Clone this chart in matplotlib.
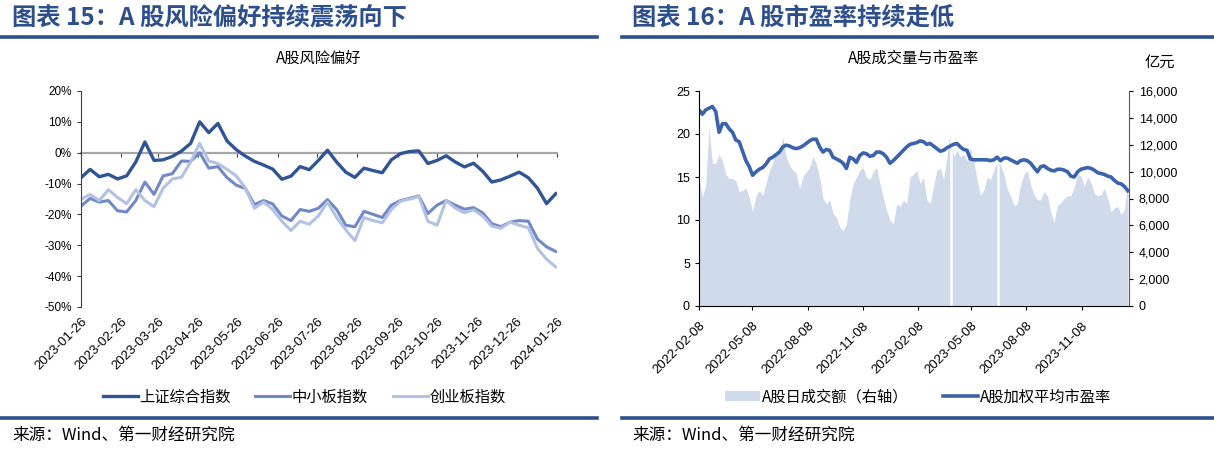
import matplotlib
matplotlib.use('Agg')
import matplotlib.pyplot as plt
from matplotlib.lines import Line2D
from matplotlib.patches import Patch
from matplotlib.ticker import FuncFormatter
import pandas as pd

plt.rcParams['font.family'] = ['Liberation Sans', 'Noto Sans CJK SC', 'DejaVu Sans']
plt.rcParams['axes.unicode_minus'] = False

# ---- 图表15 数据：A股风险偏好（%，周度读数）
risk_start = '2023-01-26'
sh_idx = [-8.1, -5.4, -7.8, -7.0, -8.5, -7.5, -3.0, 3.5, -2.5, -2.3,
          -1.2, 0.5, 3.0, 10.0, 6.5, 9.5, 3.8, 1.0, -1.1, -2.8,
          -4.0, -5.3, -8.6, -7.6, -4.5, -5.5, -2.5, 0.8, -3.0, -6.3,
          -8.0, -5.0, -5.8, -6.5, -2.3, -0.3, 0.4, 0.6, -3.5, -2.5,
          -1.0, -3.0, -4.6, -3.4, -6.0, -9.5, -8.8, -7.6, -6.3, -8.1,
          -11.5, -16.5, -13.3]
zx_idx = [-17.3, -14.8, -16.0, -15.5, -18.8, -19.2, -15.5, -9.5, -13.5, -7.5,
          -6.8, -2.7, -2.8, 0.0, -5.0, -4.5, -8.1, -10.5, -11.6, -16.8,
          -15.5, -16.6, -20.5, -22.0, -18.4, -19.0, -18.0, -15.2, -18.4, -23.5,
          -24.0, -19.0, -20.0, -21.0, -17.0, -15.5, -14.8, -14.0, -19.7, -17.0,
          -15.5, -17.0, -18.3, -17.8, -19.5, -23.0, -24.0, -22.5, -22.0, -22.2,
          -28.0, -30.5, -32.0]
cy_idx = [-15.1, -13.5, -15.5, -12.0, -14.5, -16.5, -12.0, -15.5, -17.5, -11.5,
          -8.5, -8.0, -3.0, 3.0, -2.7, -3.5, -5.4, -7.5, -11.4, -18.0,
          -16.0, -18.4, -22.2, -25.2, -22.2, -23.2, -20.5, -16.0, -21.0, -25.0,
          -28.5, -21.0, -22.0, -22.7, -18.4, -15.7, -15.0, -14.2, -22.2, -23.5,
          -15.5, -18.0, -19.5, -18.5, -20.5, -23.8, -24.5, -22.5, -23.5, -24.3,
          -31.0, -34.5, -37.0]
risk_labels = ['上证综合指数', '中小板指数', '创业板指数']

# ---- 图表16 数据：成交额（亿元）与加权平均市盈率
mkt_start, mkt_end = '2022-02-08', '2024-01-24'
volume = [9600, 8100, 9000, 13300, 10600, 10600, 11300, 10800, 9800, 9500,
          9500, 9300, 8500, 8600, 8800, 8100, 7000, 8200, 8600, 8200,
          9100, 10100, 10600, 11600, 11300, 12600, 11100, 10500, 10100, 9900,
          8700, 9600, 10000, 10300, 11100, 10600, 9600, 8000, 7600, 7900,
          6900, 6600, 5900, 5600, 6100, 7900, 9100, 9600, 10100, 10300,
          9600, 9400, 10000, 10300, 9100, 8100, 7100, 6400, 6100, 7600,
          7400, 7900, 7600, 9600, 9800, 10100, 9100, 9600, 7900, 7600,
          8900, 10100, 10300, 9400, 11100, 13100, 11100, 11600, 11100, 11300,
          10800, 11800, 10800, 9400, 8200, 8600, 9600, 9400, 10100, 10800,
          10500, 9800, 8700, 8200, 7500, 7600, 9000, 9800, 10100, 9000,
          8300, 7900, 7900, 8500, 8200, 7000, 6200, 7500, 7700, 8000,
          8200, 8200, 8800, 9800, 9700, 8900, 9600, 9200, 8400, 8200,
          8300, 8800, 8000, 7000, 7300, 7400, 6800, 7200, 9100]
zero_volume_days = ['2023-04-05', '2023-06-22']
pe = [22.8, 22.3, 22.8, 23.0, 23.2, 22.6, 20.2, 21.2, 21.2, 20.6,
      20.2, 19.3, 19.1, 18.0, 16.9, 16.2, 15.2, 15.6, 15.9, 16.1,
      16.5, 17.1, 17.3, 17.6, 17.9, 18.5, 18.7, 18.6, 18.4, 18.3,
      18.4, 18.6, 18.9, 19.2, 19.4, 19.4, 18.5, 17.9, 18.2, 18.1,
      17.3, 17.1, 16.9, 16.6, 16.0, 17.3, 17.1, 16.7, 17.5, 17.8,
      17.7, 17.4, 17.5, 17.9, 17.9, 17.7, 17.3, 16.6, 16.9, 17.3,
      17.7, 18.1, 18.5, 18.8, 18.9, 19.0, 19.2, 19.1, 18.8, 18.9,
      18.6, 18.3, 18.0, 18.1, 18.4, 18.6, 18.8, 18.9, 18.5, 18.2,
      18.1, 17.1, 17.0, 17.0, 17.0, 17.0, 17.0, 16.9, 17.0, 17.3,
      16.9, 17.2, 17.2, 17.0, 16.8, 16.6, 16.9, 17.0, 16.9, 16.6,
      16.1, 15.6, 16.2, 16.3, 16.0, 15.8, 15.7, 15.9, 15.9, 15.8,
      15.6, 15.1, 15.0, 15.6, 15.9, 16.0, 16.1, 16.0, 15.8, 15.5,
      15.4, 15.3, 15.1, 15.0, 14.6, 14.3, 14.2, 13.9, 13.4]
mkt_labels = ['A股日成交额（右轴）', 'A股加权平均市盈率']

# 颜色
hdr = '#2D4F8E'
c_sh, c_zx, c_cy = '#2F5597', '#7189C6', '#B3C2E2'
c_area, c_pe = '#CFDAEB', '#3B63AD'
cjk = ['Noto Sans CJK SC', 'DejaVu Sans']

W, H = 1214, 449
fig = plt.figure(figsize=(W / 100, H / 100), dpi=100)


def fx(px):
    return px / W


def fy(py):
    return 1 - py / H


# 标题栏、分隔线、来源
for x0, x1, tx, title in [(0, 597, 12, '图表 15：A 股风险偏好持续震荡向下'),
                          (622, 1214, 632, '图表 16：A 股市盈率持续走低')]:
    fig.add_artist(Line2D([fx(x0), fx(x1)], [fy(37)] * 2, color=hdr, lw=2.6))
    fig.add_artist(Line2D([fx(x0), fx(x1)], [fy(418)] * 2, color=hdr, lw=2.6))
    fig.text(fx(tx), fy(19), title, fontsize=17.5, fontweight='bold',
             color=hdr, family=cjk, va='center')
    fig.text(fx(tx), fy(435), '来源：Wind、第一财经研究院', fontsize=12,
             family=cjk, va='center')

# ---------------- 左图
ax1 = fig.add_axes([fx(81), fy(307), fx(557) - fx(81), fy(91) - fy(307)])
wk = pd.date_range(risk_start, periods=len(sh_idx), freq='7D')
ax1.plot(wk, sh_idx, color=c_sh, lw=2.4, label=risk_labels[0])
ax1.plot(wk, zx_idx, color=c_zx, lw=2.2, label=risk_labels[1])
ax1.plot(wk, cy_idx, color=c_cy, lw=2.2, label=risk_labels[2])
ax1.set_ylim(-50, 20)
ax1.set_yticks(range(-50, 21, 10))
ax1.yaxis.set_major_formatter(FuncFormatter(lambda v, p: f'{v:.0f}%'))
m_ticks = pd.date_range('2023-01-26', '2024-01-26', freq=pd.DateOffset(months=1))
ax1.set_xlim(m_ticks[0], m_ticks[-1])
ax1.set_xticks(m_ticks)
ax1.set_xticklabels([d.strftime('%Y-%m-%d') for d in m_ticks], rotation=45,
                    ha='right', rotation_mode='anchor')
ax1.tick_params(axis='x', length=0, pad=6, labelsize=9.5)
ax1.tick_params(axis='y', length=3, width=0.8, labelsize=8.5, color='#404040')
for s in ['top', 'right', 'bottom']:
    ax1.spines[s].set_visible(False)
ax1.spines['left'].set_color('#404040')
ax1.spines['left'].set_linewidth(0.8)
ax1.set_title('A股风险偏好', fontsize=11, family=cjk, pad=20)

# 0%处的横轴
zero_loc = (0 - ax1.get_ylim()[0]) / (ax1.get_ylim()[1] - ax1.get_ylim()[0])
sec = ax1.secondary_xaxis(zero_loc)
sec.set_alignment('bottom')
sec.set_xticks(m_ticks)
sec.set_xticklabels([])
sec.tick_params(length=3, width=0.8, color='#404040')
sec.spines['bottom'].set_color('#A6A6A6')
sec.spines['bottom'].set_linewidth(1.6)

fig.legend(*ax1.get_legend_handles_labels(), loc='center',
           bbox_to_anchor=(fx(304), fy(397)), ncol=3, frameon=False,
           prop={'family': cjk, 'size': 11}, handlelength=2.3,
           handletextpad=0.1, columnspacing=1.6)

# ---------------- 右图
ax2 = fig.add_axes([fx(699), fy(306), fx(1129) - fx(699), fy(91) - fy(306)])
ax2r = ax2.twinx()
md = pd.date_range(mkt_start, mkt_end, periods=len(volume))
ax2r.fill_between(md, volume, color=c_area, lw=0, label=mkt_labels[0])
ax2r.vlines(pd.to_datetime(zero_volume_days), 0, 16000, color='white', lw=1.8)
pd_dates = pd.date_range(mkt_start, mkt_end, periods=len(pe))
ax2.plot(pd_dates, pe, color=c_pe, lw=2.6, label=mkt_labels[1])
ax2.set_zorder(ax2r.get_zorder() + 1)
ax2.patch.set_visible(False)

ax2.set_ylim(0, 25)
ax2.set_yticks(range(0, 26, 5))
ax2r.set_ylim(0, 16000)
ax2r.set_yticks(range(0, 16001, 2000))
ax2r.yaxis.set_major_formatter(FuncFormatter(lambda v, p: f'{v:,.0f}'))
q_ticks = pd.date_range('2022-02-08', '2023-11-08', freq=pd.DateOffset(months=3))
ax2.set_xlim(pd.Timestamp('2022-02-08'), pd.Timestamp('2024-01-26'))
ax2.set_xticks(q_ticks)
ax2.set_xticklabels([d.strftime('%Y-%m-%d') for d in q_ticks], rotation=45,
                    ha='right', rotation_mode='anchor')
ax2.tick_params(axis='x', length=3, width=0.8, pad=7, labelsize=9.5)
ax2.tick_params(axis='y', length=3, width=0.8, labelsize=9)
ax2r.tick_params(axis='y', length=3, width=0.8, labelsize=9, pad=4)
for a in (ax2, ax2r):
    a.spines['top'].set_visible(False)
ax2.spines['right'].set_visible(False)
ax2r.spines['left'].set_visible(False)
ax2r.spines['bottom'].set_visible(False)
ax2r.spines['right'].set_color('#595959')
ax2.set_title('A股成交量与市盈率', fontsize=11, family=cjk, pad=20)
fig.text(fx(1160), fy(62), '亿元', fontsize=11, family=cjk,
         ha='center', va='center')

handles = [Patch(facecolor=c_area, edgecolor='none'),
           Line2D([], [], color=c_pe, lw=2.6)]
fig.legend(handles, mkt_labels, loc='center', bbox_to_anchor=(fx(918), fy(397)),
           ncol=2, frameon=False, prop={'family': cjk, 'size': 11},
           handlelength=2.3, handleheight=0.6, handletextpad=0.1,
           columnspacing=2.3)

fig.savefig('out.png', dpi=100)
